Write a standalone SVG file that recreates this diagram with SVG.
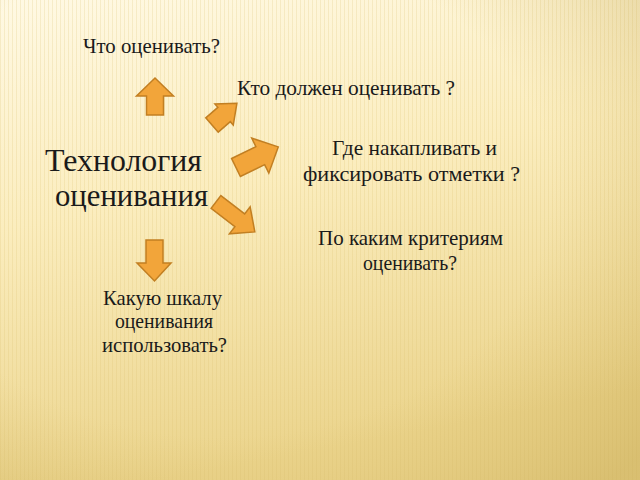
<svg xmlns="http://www.w3.org/2000/svg" width="640" height="480" viewBox="0 0 640 480">
<style>
.t{font-family:"Liberation Serif","Times New Roman",serif;fill:#1a1a1a;font-size:21px}
.big{font-size:32px}
.arr{fill:#F2A53A;stroke:#C27F22;stroke-width:1.5;stroke-linejoin:miter}
</style>
<defs>
<linearGradient id="bg" x1="0" y1="0" x2="0.25" y2="1">
<stop offset="0" stop-color="#FFF9E4"/>
<stop offset="0.45" stop-color="#FBEDBE"/>
<stop offset="1" stop-color="#EBD48C"/>
</linearGradient>
<radialGradient id="vig" cx="0.35" cy="0.4" r="0.85">
<stop offset="0.6" stop-color="#C9A84A" stop-opacity="0"/>
<stop offset="1" stop-color="#B8993F" stop-opacity="0.35"/>
</radialGradient>
<pattern id="stripes" width="4" height="8" patternUnits="userSpaceOnUse">
<rect x="0" y="0" width="1" height="8" fill="#D9BE6E" opacity="0.22"/>
</pattern>
</defs>
<g id="background">
<rect width="640" height="480" fill="url(#bg)"/>
<rect width="640" height="480" fill="url(#stripes)"/>
<rect width="640" height="480" fill="url(#vig)"/>
</g>
<g id="connectors">
<polygon class="arr" points="155,78 173.5,96 163.5,96 163.5,115 146.5,115 146.5,96 136.5,96"/>
<polygon class="arr" transform="translate(212,125) rotate(-41)" points="0,-9.5 16,-9.5 16,-14 33,0 16,14 16,9.5 0,9.5"/>
<polygon class="arr" transform="translate(236,167.5) rotate(-26)" points="0,-10 27,-10 27,-19.5 47,0 27,19.5 27,10 0,10"/>
<polygon class="arr" transform="translate(216,202) rotate(37.6)" points="0,-8 30,-8 30,-17 49,0 30,17 30,8 0,8"/>
<polygon class="arr" points="146,240 163,240 163,263 171,263 154.5,281 137,263 146,263"/>
</g>
<g id="node-center">
<text class="t big" x="45" y="171" textLength="157" lengthAdjust="spacingAndGlyphs">Технология</text>
<text class="t big" x="55" y="206" textLength="153" lengthAdjust="spacingAndGlyphs">оценивания</text>
</g>
<g id="node-what">
<text class="t" x="83" y="53" textLength="137" lengthAdjust="spacingAndGlyphs">Что оценивать?</text>
</g>
<g id="node-who">
<text class="t" x="237" y="95" textLength="218" lengthAdjust="spacingAndGlyphs">Кто должен оценивать ?</text>
</g>
<g id="node-where">
<text class="t" x="332" y="155" textLength="165" lengthAdjust="spacingAndGlyphs">Где накапливать и</text>
<text class="t" x="303" y="181" textLength="217" lengthAdjust="spacingAndGlyphs">фиксировать отметки ?</text>
</g>
<g id="node-criteria">
<text class="t" x="318" y="245" textLength="185" lengthAdjust="spacingAndGlyphs">По каким критериям</text>
<text class="t" x="363" y="270" textLength="94" lengthAdjust="spacingAndGlyphs">оценивать?</text>
</g>
<g id="node-scale">
<text class="t" x="103" y="305" textLength="119" lengthAdjust="spacingAndGlyphs">Какую шкалу</text>
<text class="t" x="115" y="328" textLength="98" lengthAdjust="spacingAndGlyphs">оценивания</text>
<text class="t" x="102" y="352" textLength="125" lengthAdjust="spacingAndGlyphs">использовать?</text>
</g>
</svg>
